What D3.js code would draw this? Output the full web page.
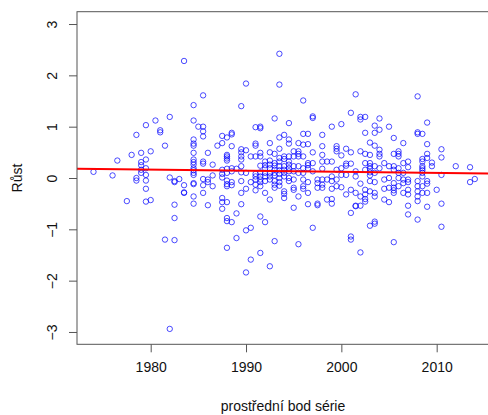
<!DOCTYPE html>
<html>
<head>
<meta charset="utf-8">
<script src="https://cdn.jsdelivr.net/npm/d3@7"></script>
<style>
  html, body { margin: 0; padding: 0; background: #fff; overflow: hidden; }
  svg { display: block; font-family: "Liberation Sans", Arial, sans-serif; }
</style>
</head>
<body>
<svg id="chart" width="488" height="415"></svg>
<script>
// Series midpoints (years) and the growth values observed at each midpoint
const midYears = [1974, 1976, 1976.5, 1977.5, 1978, 1978.5, 1979, 1979.5, 1980, 1980.5,
  1981, 1981.5, 1982, 1982.5, 1983, 1983.5, 1984.5, 1985, 1985.5, 1986, 1986.5, 1987,
  1987.5, 1988, 1988.5, 1989, 1989.5, 1990, 1990.5, 1991, 1991.5, 1992, 1992.5, 1993,
  1993.5, 1994, 1994.5, 1995, 1995.5, 1996, 1996.5, 1997, 1997.5, 1998, 1998.5, 1999,
  1999.5, 2000, 2000.5, 2001, 2001.5, 2002, 2002.5, 2003, 2003.5, 2004, 2004.5, 2005,
  2005.5, 2006, 2006.5, 2007, 2008, 2008.5, 2009, 2009.5, 2010, 2010.5, 2012, 2013.5, 2014];

const growthByYear = [
  [0.12], [0.05], [0.34], [-0.45], [0.45],
  [0.84, 0.00, -0.05],
  [0.49, 0.31, 0.25, 0.16, 0.10],
  [1.03, 0.36, 0.19, 0.06, -0.05, -0.21, -0.46],
  [0.52, -0.43],
  [1.12],
  [0.93, 0.89],
  [0.63, -1.20],
  [1.19, 0.01, -2.94],
  [-0.06, -0.08, -0.52, -0.78, -1.21],
  [-0.02],
  [2.28, -0.14, -0.28, -0.29],
  [1.42, 1.12, 0.75, 0.67, 0.63, 0.49, 0.36, 0.31, 0.26, 0.19, 0.15, 0.10, 0.06, -0.10, -0.12, -0.36, -0.50],
  [1.00],
  [1.61, 1.00, 0.91, 0.81, 0.32, 0.28, -0.02, -0.14, -0.29],
  [0.49, -0.03, -0.08, -0.53],
  [0.26, 0.05, -0.16],
  [0.63],
  [0.82, 0.68, 0.16, 0.08, 0.01, -0.39, -0.47, -0.60],
  [0.79, 0.45, 0.42, 0.38, 0.34, 0.18, 0.10, -0.05, -0.12, -0.16, -0.47, -0.78, -0.84, -1.36],
  [0.88, 0.85, 0.62, 0.19, 0.13, -0.08, -0.14, -0.86],
  [0.18, -0.69, -1.17],
  [1.40, 0.56, 0.50, 0.42, 0.36, 0.23, 0.11, -0.06, -0.29, -0.51],
  [1.84, 0.54, 0.10, -0.21, -1.02, -1.84],
  [0.42, -0.08, -0.97, -1.59],
  [0.99, 0.67, 0.63, 0.42, 0.08, 0.03, -0.03, -0.13, -0.24],
  [1.00, 0.97, 0.49, 0.42, 0.24, 0.11, 0.03, -0.03, -0.08, -0.16, -0.75, -1.46],
  [0.32, 0.25, 0.19, 0.10, 0.03, -0.06, -0.29, -0.86],
  [0.68, 0.50, 0.34, 0.26, 0.19, 0.10, 0.03, -0.03, -0.42, -1.72],
  [1.16, 0.47, 0.29, 0.24, 0.16, 0.10, 0.05, -0.06, -0.13, -0.19, -1.23],
  [2.42, 1.82, 0.79, 0.57, 0.39, 0.32, 0.23, 0.15, 0.08, 0.00, -0.08, -0.15],
  [0.84, 0.42, 0.37, 0.23, 0.16, 0.10, 0.03, -0.26, -0.31, -0.39],
  [1.07, 0.75, 0.67, 0.42, 0.32, 0.26, 0.19, 0.13, 0.00, -0.06],
  [0.52, 0.42, 0.23, 0.13, -0.03, -0.19, -0.23, -0.58],
  [0.68, 0.52, 0.47, 0.42, 0.23, 0.10, -0.36, -1.29],
  [1.51, 0.86, 0.65, 0.42, 0.19, 0.10, -0.03, -0.16, -0.21],
  [0.86, 0.66, 0.29, 0.25, 0.19, -0.08, -0.29, -0.51],
  [1.20, 1.17, 0.50, 0.29, 0.13, -0.97],
  [-0.03, -0.10, -0.19, -0.50, -0.53],
  [0.84, 0.62, 0.45, 0.32, 0.18, -0.03, -0.13, -0.19],
  [0.32, -0.03, -0.42],
  [1.00, 0.32, 0.03, -0.06, -0.21, -0.41, -0.50],
  [0.62, 0.57, 0.52, 0.16, -0.03, -0.16],
  [1.05, 0.44, 0.19, 0.06, -0.18],
  [0.57, 0.28, 0.24, 0.06, -0.32],
  [1.27, 0.50, 0.28, -0.23, -0.68, -1.14, -1.20],
  [1.63, 0.13, 0.03, -0.29, -0.54, -0.55],
  [1.19, 1.14, 0.52, -0.11, -0.36, -0.54, -1.45],
  [1.19, 0.88, 0.47, 0.29, 0.16, -0.23, -0.32, -0.41, -0.46],
  [0.69, 0.45, 0.29, 0.23, 0.18, 0.11, 0.05, -0.06, -0.26, -0.93],
  [1.02, 0.88, 0.63, 0.23, 0.10, -0.08, -0.29, -0.36, -0.85, -0.89],
  [1.16, 0.94, 0.55, 0.47, 0.42, 0.19],
  [0.29, -0.03, -0.21, -0.42],
  [1.00, 0.23, 0.00, -0.19, -0.47],
  [0.78, 0.47, 0.23, 0.16, -0.10, -0.19, -0.24, -0.29, -1.25],
  [0.52, 0.47, 0.42, 0.19, 0.10, 0.00, -0.16],
  [0.68, 0.29, 0.10, -0.03, -0.10, -0.29],
  [0.32, 0.21, -0.03, -0.08, -0.23, -0.32, -0.54, -0.71],
  [1.59, 0.89, 0.86, -0.06, -0.16, -0.26, -0.36, -0.45, -0.81],
  [0.86, 0.37, 0.32, 0.23, 0.19, 0.15, 0.10, 0.03, -0.16, -0.29],
  [1.08, 0.66, 0.47, 0.39, -0.06, -0.11, -0.29, -0.56],
  [0.30, 0.23],
  [-0.23],
  [0.56, 0.40, 0.06, -0.50, -0.95],
  [0.23],
  [0.21, -0.08],
  [-0.02]
];

// Fitted linear trend: value at 1980 and slope per year
const trendAt1980 = 0.164;
const trendSlope = -0.0021;

const xTicks = [1980, 1990, 2000, 2010];
const yTicks = [-3, -2, -1, 0, 1, 2, 3];

const xLabel = "prostřední bod série";
const yLabel = "Růst";

(function draw() {
  const points = [];
  midYears.forEach((yr, i) => growthByYear[i].forEach(v => points.push({ year: yr, value: v })));

  const svg = d3.select("#chart");

  // Plot region (R-style; the x range runs past the right edge of the window)
  const plotLeft = 77, plotTop = 11.7, plotBottom = 344.3;
  const pxPerYear = 9.533;
  const xMin = 1972.27, xMax = 2016.3;
  const x = d3.scaleLinear().domain([xMin, xMax])
    .range([plotLeft, plotLeft + (xMax - xMin) * pxPerYear]);
  const y = d3.scaleLinear().domain([-3.24, 3.24]).range([plotBottom, plotTop]);
  const plotRight = x(xMax);

  const axisColor = "#555";

  svg.append("clipPath").attr("id", "plotClip")
    .append("rect").attr("x", plotLeft).attr("y", plotTop)
    .attr("width", plotRight - plotLeft).attr("height", plotBottom - plotTop);

  // Points
  svg.append("g")
    .selectAll("circle")
    .data(points)
    .join("circle")
    .attr("cx", d => x(d.year))
    .attr("cy", d => y(d.value))
    .attr("r", 2.7)
    .attr("fill", "none")
    .attr("stroke", "#0000ff")
    .attr("stroke-opacity", 0.7)
    .attr("stroke-width", 1);

  // Trend line
  const trend = yr => trendAt1980 + trendSlope * (yr - 1980);
  svg.append("line")
    .attr("clip-path", "url(#plotClip)")
    .attr("x1", x(xMin)).attr("y1", y(trend(xMin)))
    .attr("x2", x(xMax)).attr("y2", y(trend(xMax)))
    .attr("stroke", "#ff0000")
    .attr("stroke-width", 2);

  // Plot box
  svg.append("rect")
    .attr("x", plotLeft).attr("y", plotTop)
    .attr("width", plotRight - plotLeft).attr("height", plotBottom - plotTop)
    .attr("fill", "none").attr("stroke", axisColor).attr("stroke-width", 1);

  // X axis
  const xAxis = svg.append("g")
    .attr("transform", `translate(0,${plotBottom})`)
    .call(d3.axisBottom(x).tickValues(xTicks).tickFormat(d3.format("d")).tickSize(8).tickPadding(10));
  xAxis.select(".domain").remove();
  xAxis.selectAll(".tick line").attr("stroke", axisColor);
  xAxis.selectAll(".tick text").attr("font-size", 14).attr("fill", "#111")
    .attr("font-family", "Liberation Sans, Arial, sans-serif");

  // Y axis with rotated labels
  const yAxis = svg.append("g")
    .attr("transform", `translate(${plotLeft},0)`)
    .call(d3.axisLeft(y).tickValues(yTicks).tickFormat(d3.format("d")).tickSize(8));
  yAxis.select(".domain").remove();
  yAxis.selectAll(".tick line").attr("stroke", axisColor);
  yAxis.selectAll(".tick text")
    .attr("font-size", 14).attr("fill", "#111")
    .attr("font-family", "Liberation Sans, Arial, sans-serif")
    .attr("x", null).attr("dy", null)
    .attr("text-anchor", "middle")
    .attr("dominant-baseline", "central")
    .attr("transform", "translate(-25.5,0) rotate(-90)");

  // Axis titles
  svg.append("text")
    .attr("x", 283).attr("y", 411)
    .attr("text-anchor", "middle")
    .attr("font-size", 14).attr("fill", "#111")
    .text(xLabel);

  svg.append("text")
    .attr("transform", `translate(22,${y(0)}) rotate(-90)`)
    .attr("text-anchor", "middle")
    .attr("font-size", 14).attr("fill", "#111")
    .text(yLabel);
})();
</script>
</body>
</html>
